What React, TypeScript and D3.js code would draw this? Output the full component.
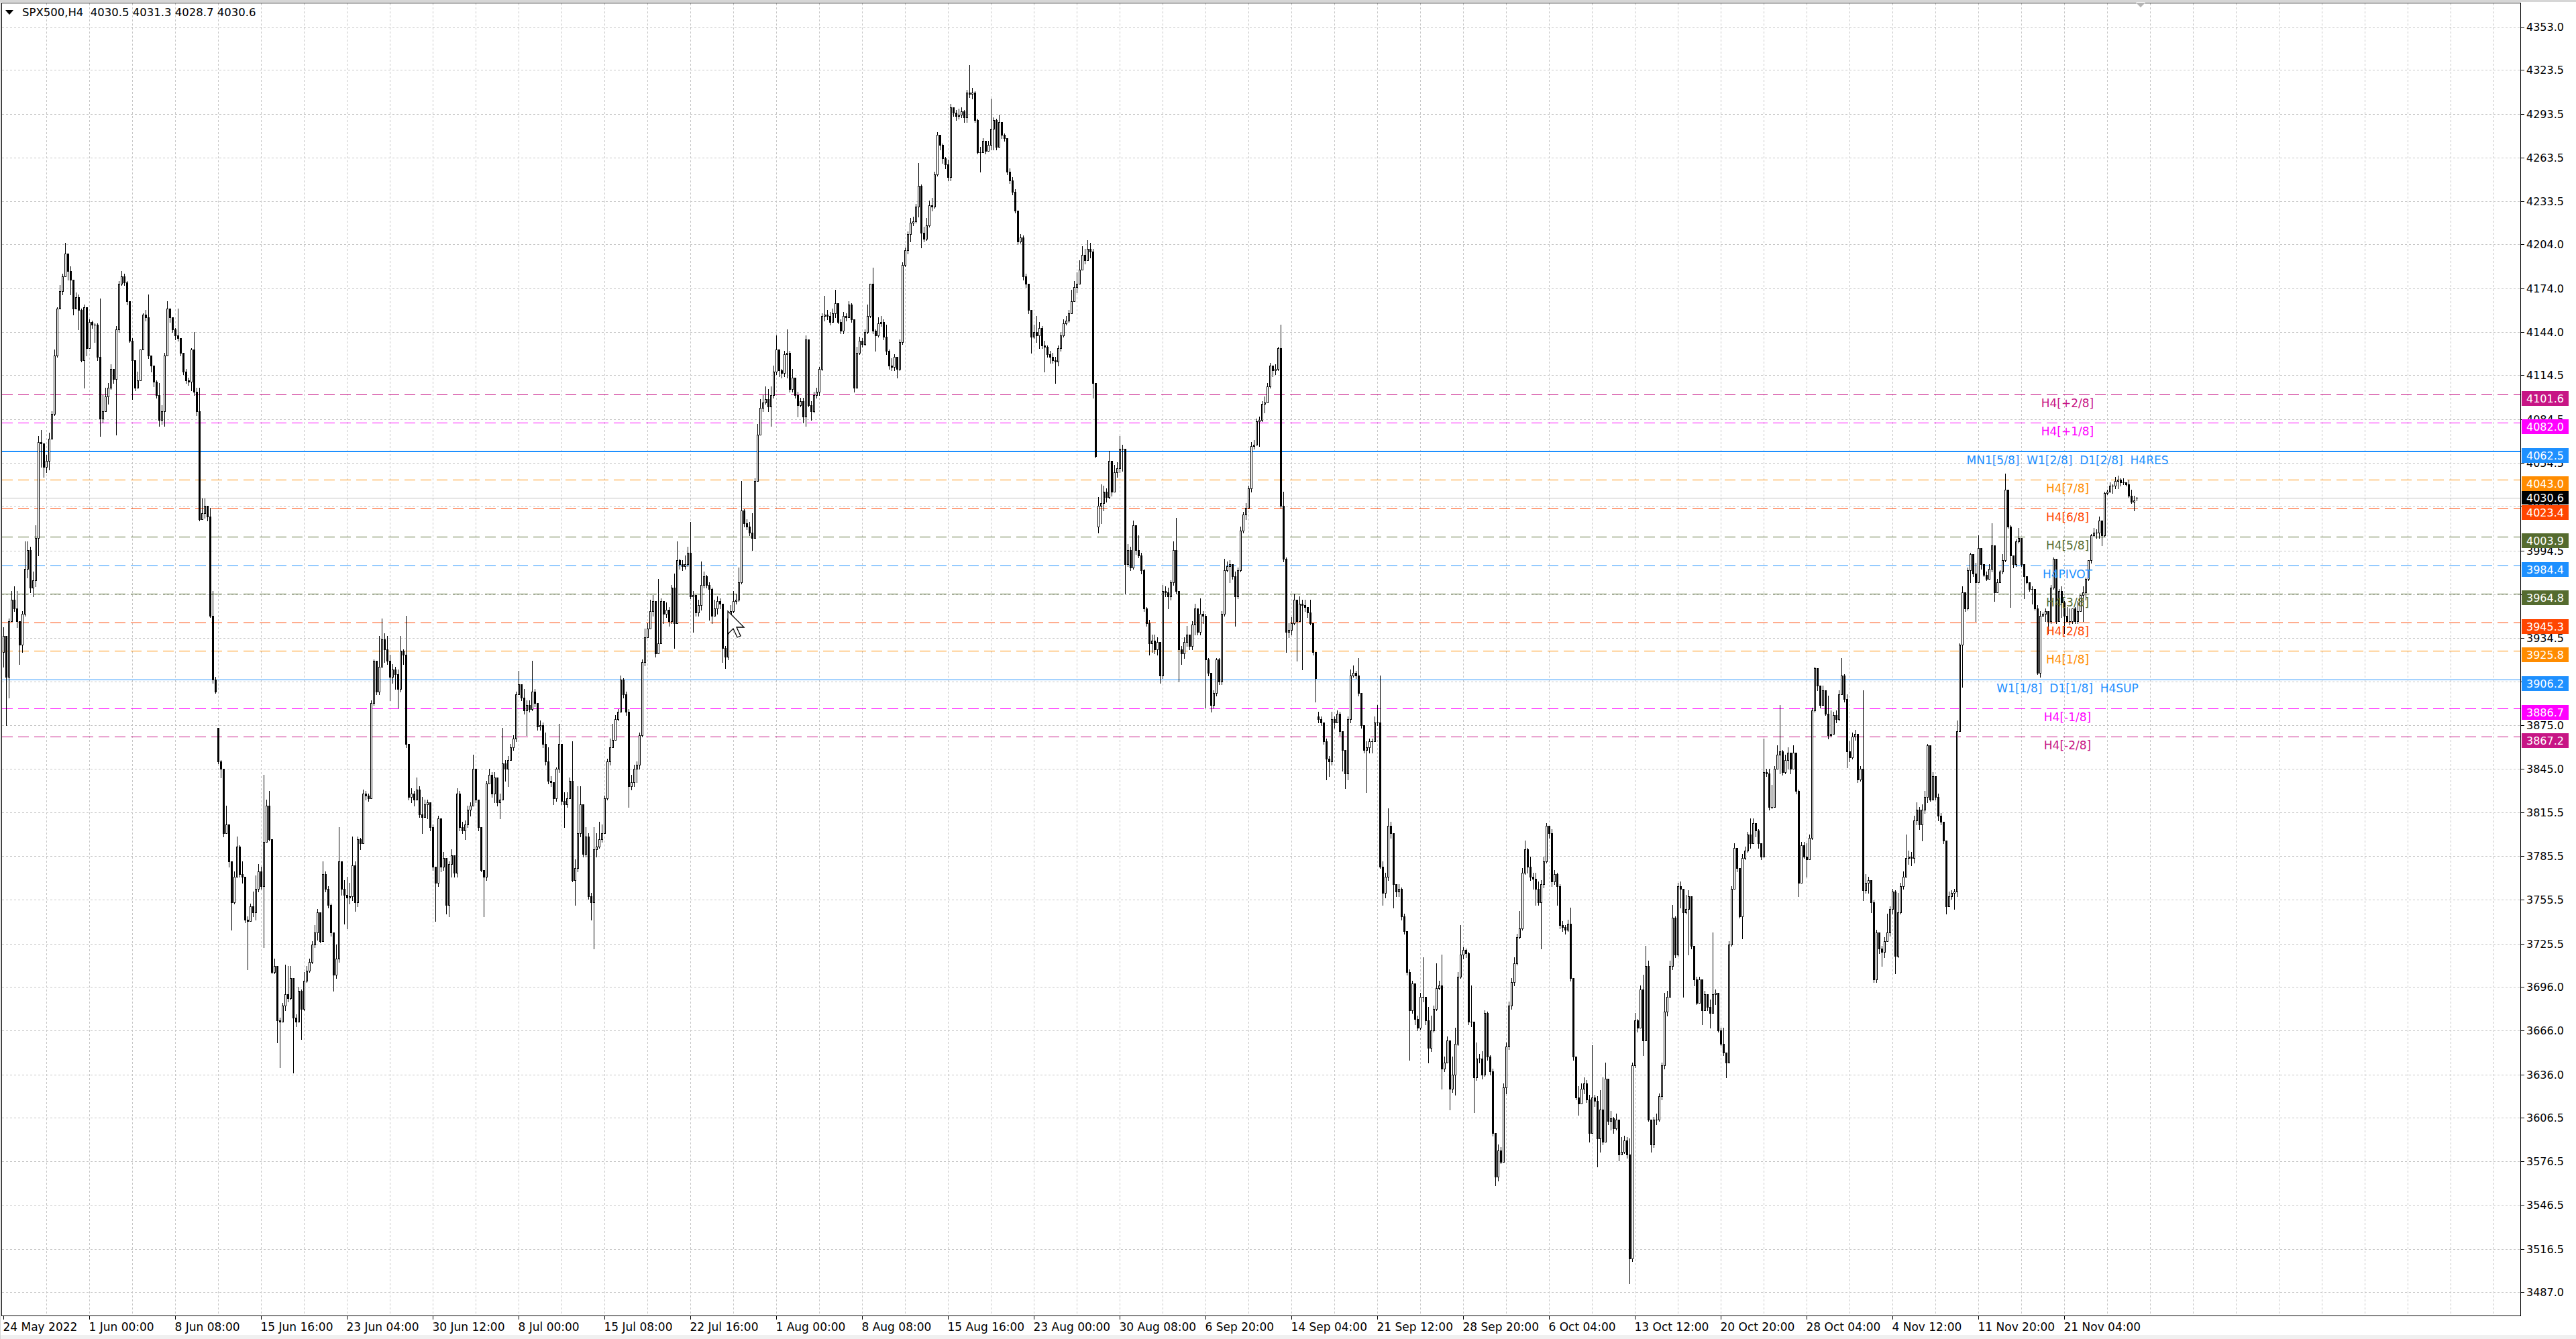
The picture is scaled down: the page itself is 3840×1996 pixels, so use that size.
import React from "react";
import * as d3 from "d3";

type Bar = number[]; // [close, high, low, open?]

const FIRST_OPEN = 3925;

const barsMayJul: Bar[] = [
[3936,3942,3915],[3908,3936,3875],[3946,3948,3894],[3961,3967,3946],[3955,3970,3953],[3946,3967,3942],[3930,3946,3917],[3951,3953,3925],[3982,4001,3950],[3995,4001,3976],
[3969,3997,3966],[3974,3980,3963],[4003,4012,3970],[4069,4073,3991],[4068,4077,4052],[4052,4064,4045],[4056,4060,4048],[4071,4075,4050],[4088,4090,4071],[4128,4132,4087],
[4160,4161,4127],[4172,4176,4163],[4182,4184,4170],[4198,4205,4182],[4186,4198,4180],[4180,4189,4170],[4160,4170,4156],[4168,4171,4163],[4159,4170,4146],[4125,4160,4124],
[4161,4163,4106],[4133,4157,4128],[4151,4153,4138],[4149,4152,4147],[4149,4150,4137],[4127,4150,4125],[4085,4167,4073],[4090,4101,4082],[4100,4106,4094],[4106,4109,4095],
[4119,4122,4105],[4112,4117,4109],[4146,4148,4074],[4177,4179,4144],[4182,4186,4176],[4178,4184,4176],[4165,4179,4163],[4138,4165,4137],[4125,4140,4098],[4106,4125,4104],
[4111,4117,4106],[4132,4132,4115],[4156,4157,4132],[4154,4159,4152],[4128,4170,4126],[4121,4128,4117],[4110,4120,4107],[4101,4111,4099],[4084,4109,4080],[4090,4094,4081],
[4128,4130,4080],[4160,4165,4128],[4154,4159,4151],[4146,4154,4144],[4142,4147,4139],[4140,4160,4138],[4130,4140,4128],[4117,4130,4115],[4111,4119,4109],[4110,4113,4108],
[4132,4133,4104],[4103,4144,4101],[4090,4106,4087],[4016,4106,4015],[4020,4030,4017],[4025,4030,4017],[4018,4024,4015],[3950,4024,3949],[3906,3967,3904],[3898,3908,3897],
[3850,3873,3849,3873],[3845,3851,3839],[3801,3845,3799],[3807,3820,3801],[3782,3807,3778],[3754,3782,3735],[3771,3775,3753],[3792,3799,3771],[3773,3793,3771],[3771,3782,3767],
[3742,3771,3740],[3741,3744,3708],[3751,3753,3744],[3747,3761,3744],[3763,3772,3742],[3775,3780,3761],[3765,3778,3763],[3795,3841,3723],[3820,3824,3810],[3797,3830,3796],
[3706,3797,3705],[3710,3715,3705],[3673,3702,3658],[3672,3675,3641],[3683,3685,3677],[3691,3711,3680],[3688,3710,3686],[3702,3710,3687],[3675,3702,3637],[3672,3677,3669],
[3693,3696,3682],[3681,3694,3660],[3700,3706,3680],[3707,3710,3699],[3713,3715,3706],[3725,3727,3712],[3733,3738,3723],[3747,3749,3728],[3727,3747,3726],[3773,3782,3727],
[3763,3775,3761],[3752,3765,3750],[3733,3753,3731],[3704,3732,3693],[3715,3725,3702],[3782,3805,3713],[3763,3782,3759],[3759,3769,3739],[3757,3771,3736],[3758,3767,3753],
[3779,3799,3755],[3754,3782,3748],[3797,3799,3751],[3794,3798,3790],[3828,3831,3794],[3827,3830,3824],[3825,3828,3823],[3890,3892,3825],[3919,3920,3889],[3898,3906,3896],
[3915,3936,3896],[3934,3948,3915],[3927,3938,3918],[3919,3936,3917],[3908,3923,3892],[3913,3917,3904],[3910,3915,3900],[3900,3913,3887],[3926,3936,3898],[3923,3927,3917],
[3862,3950,3860],[3826,3862,3824],[3828,3832,3822],[3824,3830,3820],[3831,3839,3827],[3814,3833,3812],[3812,3826,3801],[3821,3824,3816],[3822,3824,3811],[3805,3819,3803],
[3778,3807,3776],[3767,3778,3741],[3811,3813,3765],[3778,3811,3775],[3784,3788,3776],[3752,3782,3746],[3780,3782,3744],[3786,3790,3771],[3774,3784,3771],[3828,3832,3771],
[3805,3830,3803],[3803,3809,3801],[3807,3810,3797],[3817,3820,3805],[3820,3822,3813],[3845,3855,3824],[3824,3845,3822],[3805,3824,3803],[3776,3805,3775],[3771,3776,3744],
[3835,3837,3769],[3841,3845,3835],[3828,3843,3826],[3839,3843,3822],[3822,3832,3820],[3824,3828,3811],[3849,3873,3839],[3845,3851,3837],[3851,3854,3833],[3860,3862,3851],
[3866,3868,3858],[3896,3898,3864],[3903,3912,3897],[3894,3902,3892],[3885,3900,3883],[3889,3892,3868],[3886,3892,3884],[3898,3919,3885],[3890,3900,3888]
];

const barsJulAug: Bar[] = [
[3874,3880,3872],[3875,3878,3872],[3862,3877,3860],[3850,3870,3848],[3837,3860,3835],[3836,3840,3833],[3825,3835,3821],[3845,3846,3823],[3862,3876,3843],[3823,3862,3821],
[3821,3829,3805],[3825,3829,3819],[3837,3839,3825],[3769,3864,3768],[3777,3783,3752],[3801,3833,3775],[3821,3833,3799],[3787,3821,3785],[3799,3805,3785],[3758,3801,3756],
[3754,3760,3742],[3790,3805,3722],[3792,3801,3785],[3797,3809,3791],[3801,3807,3795],[3825,3827,3801],[3850,3852,3824],[3860,3866,3848],[3865,3876,3860],[3879,3882,3865],
[3884,3886,3878],[3906,3909,3886],[3896,3907,3894],[3884,3898,3882],[3833,3886,3819],[3836,3841,3831],[3845,3848,3833],[3848,3850,3836],[3868,3870,3845],[3918,3920,3867],
[3935,3941,3916],[3941,3945,3936],[3953,3961,3941],[3960,3964,3950],[3924,3960,3922],[3931,3975,3924],[3960,3962,3935],[3951,3955,3945],[3954,3959,3949],[3946,3956,3943],
[3969,3971,3945],[3945,3979,3928],[3988,4001,3945],[3985,3989,3982],[3984,3988,3981],[3985,3991,3982],[3993,3997,3984],[3963,4014,3962],[3964,3967,3939],[3952,3959,3950],
[3957,3961,3950],[3971,3987,3954],[3977,3980,3969],[3971,3978,3969],[3968,3973,3947],[3950,3969,3945],[3955,3961,3950],[3960,3963,3951],[3958,3962,3955],[3928,3956,3918],
[3922,3929,3914],[3948,3951,3920],[3953,3957,3947],[3960,3967,3952],[3961,3965,3958],[3973,3983,3960],[4022,4042,3972],[4013,4023,4011],[4011,4016,4009],[4007,4014,4005],
[4003,4020,3995],[4042,4044,4003],[4074,4081,4052],[4092,4098,4090],[4096,4101,4090],[4098,4107,4095],[4093,4105,4090],[4101,4107,4080],[4117,4121,4099],[4132,4142,4115],
[4118,4121,4114],[4116,4119,4113],[4129,4131,4114],[4130,4146,4113],[4105,4131,4103],[4113,4119,4103],[4101,4107,4099],[4094,4103,4086],[4097,4099,4093],[4086,4099,4082],
[4139,4142,4080],[4094,4139,4093],[4090,4097,4084],[4101,4103,4089],[4103,4106,4099],[4119,4120,4101],[4155,4157,4118],[4156,4169,4152],[4155,4159,4153],[4151,4158,4149],
[4157,4160,4152],[4164,4173,4154],[4151,4164,4150],[4145,4153,4143],[4155,4158,4143],[4154,4157,4152],[4163,4165,4154],[4153,4164,4151],[4106,4153,4103],[4130,4134,4106],
[4138,4141,4129],[4136,4140,4134],[4144,4146,4135],[4155,4163,4143],[4177,4177,4154],[4145,4188,4143],[4142,4146,4131],[4150,4154,4141],[4151,4155,4148],[4141,4153,4139],
[4131,4149,4129],[4121,4132,4119],[4120,4126,4118],[4127,4129,4118],[4119,4126,4113],[4137,4139,4118],[4190,4192,4136],[4200,4202,4189],[4211,4213,4198],[4219,4222,4206],
[4220,4223,4217],[4230,4232,4219],[4244,4260,4223],[4212,4245,4202],[4208,4216,4206],[4217,4222,4207],[4231,4234,4216],[4230,4236,4227],[4252,4254,4229],[4279,4281,4251],
[4272,4275,4269],[4263,4273,4260],[4259,4264,4256],[4250,4262,4248],[4298,4300,4248],[4294,4297,4292],[4292,4296,4289],[4293,4297,4290],[4295,4298,4291],[4291,4296,4288],
[4308,4310,4288],[4307,4327,4305],[4308,4311,4304],[4289,4309,4288],[4267,4290,4266],[4267,4271,4254],[4275,4277,4269],[4268,4275,4266],[4272,4275,4268],[4283,4304,4269],
[4289,4291,4269],[4271,4290,4269],[4288,4293,4279],[4279,4286,4277],[4277,4280,4275],[4254,4277,4252],[4248,4256,4246],[4240,4250,4238],[4227,4242,4226],[4206,4218,4204],
[4209,4211,4205],[4182,4210,4180],[4177,4184,4175],[4159,4177,4157],[4141,4159,4130],[4144,4149,4140],[4142,4155,4137],[4147,4151,4133],[4135,4148,4133],[4134,4138,4117],
[4129,4135,4127],[4127,4131,4123],[4125,4130,4123],[4124,4127,4109],[4133,4135,4121],[4142,4144,4131],[4150,4153,4141],[4152,4155,4149]
];

const barsAugOct: Bar[] = [
[4157,4159,4151],[4165,4173,4157],[4175,4179,4165],[4177,4185,4171],[4187,4193,4179],[4197,4203,4189],[4193,4201,4191],[4201,4207,4193],[4199,4205,4195],[4109,4201,4099],
[4059,4109,4058],[4025,4031,4007,4011],[4027,4040,4013],[4035,4039,4022],[4031,4037,4028],[4056,4063,4030],[4035,4047,4032],[4048,4053,4035],[4051,4055,4045],[4064,4073,4048],
[4064,4067,4049],[3985,4047,3965],[3995,3999,3984],[3983,3997,3981],[4012,4015,3982],[3995,4011,3992],[3991,4005,3990],[3981,3993,3979],[3955,3982,3953],[3945,3956,3943],
[3931,3947,3923],[3933,3937,3925],[3927,3937,3924],[3932,3935,3923],[3909,3929,3904],[3967,3971,3907],[3966,3970,3963],[3963,3969,3955],[3973,3974,3961],[3995,4001,3971],
[3967,4017,3965],[3927,3967,3905],[3924,3929,3917],[3932,3935,3921],[3937,3943,3929],[3929,3933,3927],[3944,3946,3927],[3955,3958,3937],[3939,3955,3937],[3951,3962,3937],
[3950,3953,3945],[3920,3951,3887],[3911,3921,3909],[3889,3911,3884],[3897,3899,3887],[3920,3921,3895],[3905,3921,3903],[3951,3953,3903],[3981,3989,3950],[3984,3987,3980],
[3985,3988,3973],[3977,3985,3975],[3963,3980,3943],[3981,3983,3962],[4008,4011,3980],[4019,4021,4007],[4024,4027,4016],[4037,4039,4024],[4066,4069,4035],[4067,4070,4064],
[4083,4085,4067],[4084,4086,4066],[4095,4097,4083],[4096,4100,4089],[4107,4109,4096],[4121,4123,4106],[4118,4120,4114],[4119,4122,4115],[4133,4134,4118],[4025,4149,4024],
[3989,4035,3987],[3939,3990,3925],[3940,3945,3935],[3945,3949,3937],[3961,3965,3944],[3946,3960,3919],[3958,3963,3953],[3957,3961,3913],[3956,3961,3953],[3952,3956,3949],
[3945,3961,3944],[3925,3944,3923],[3907,3925,3891],[3879,3884,3877,3881],[3877,3881,3875],[3864,3877,3862],[3852,3866,3838],[3850,3854,3840],[3879,3884,3848],[3877,3881,3873],
[3883,3885,3877],[3871,3884,3868],[3858,3871,3844],[3842,3852,3832],[3879,3881,3838],[3909,3913,3877],[3911,3916,3908],[3909,3912,3907],[3897,3921,3895],[3875,3897,3873],
[3858,3875,3856],[3860,3864,3829],[3864,3866,3856],[3864,3866,3856],[3877,3881,3873],[3877,3889,3875],[3778,3909,3777],[3760,3782,3752],[3771,3774,3757],[3806,3818,3769],
[3801,3809,3798],[3766,3801,3750],[3761,3766,3758],[3763,3766,3758],[3744,3764,3742],[3734,3746,3732],[3706,3734,3704],[3680,3708,3646],[3698,3700,3678],[3674,3698,3670],
[3668,3676,3666],[3689,3692,3667],[3689,3716,3686],[3673,3688,3670],[3654,3682,3644],[3666,3676,3652],[3681,3683,3665],[3695,3712,3680],[3697,3700,3694],[3640,3718,3626],
[3644,3648,3638],[3659,3662,3644],[3626,3654,3612],[3636,3648,3624],[3657,3668,3622],[3703,3706,3656],[3718,3738,3702],[3721,3723,3715],[3719,3722,3716],[3672,3720,3670],
[3672,3697,3669],[3634,3672,3610],[3647,3658,3632],[3647,3650,3644],[3636,3652,3633],[3678,3680,3635],[3648,3679,3646],[3638,3649,3636],[3596,3640,3594],[3566,3596,3560],
[3584,3588,3563],[3576,3586,3575],[3627,3630,3576],[3655,3658,3623],[3683,3686,3653],[3699,3702,3681],[3712,3716,3697],[3730,3732,3711],[3736,3748,3729],[3774,3777,3735],
[3790,3796,3773],[3778,3791,3774],[3771,3785,3769],[3770,3774,3763],[3763,3774,3752],[3754,3768,3752],[3766,3769,3722],[3782,3785,3764],[3806,3808,3781],[3801,3804,3798],
[3768,3804,3765],[3773,3776,3766],[3765,3774,3752],[3738,3766,3736],[3737,3741,3734],[3735,3738,3732],[3739,3742,3734],[3702,3750,3700],[3648,3702,3646],[3620,3648,3619],
[3616,3628,3608],[3626,3630,3622],[3630,3634,3623],[3619,3632,3617],[3596,3622,3590],[3620,3656,3608],[3618,3622,3614]
];

const barsOctNov: Bar[] = [
[3592,3621,3573],[3612,3625,3583],[3590,3634,3588],[3633,3644,3592],[3604,3625,3602],[3606,3611,3598],[3599,3607,3596],[3605,3609,3598],[3581,3600,3577],[3583,3593,3581],
[3591,3594,3582],[3581,3593,3579],[3510,3592,3493],[3642,3644,3508],[3673,3678,3641],[3668,3674,3665],[3694,3697,3668],[3659,3704,3649],[3710,3724,3689],[3605,3714,3604],
[3588,3605,3583],[3605,3607,3586],[3605,3609,3602],[3621,3623,3604],[3642,3644,3619],[3679,3692,3640],[3689,3693,3676],[3710,3714,3701],[3743,3752,3708],[3718,3744,3716],
[3765,3767,3717],[3763,3768,3750],[3747,3754,3689],[3749,3759,3746],[3758,3762,3718],[3724,3751,3722],[3701,3724,3697],[3685,3703,3684],[3701,3703,3685],[3680,3701,3670],
[3691,3693,3680],[3682,3691,3680],[3678,3687,3668],[3691,3733,3679],[3692,3694,3684],[3666,3692,3665],[3657,3668,3656],[3651,3668,3649],[3644,3648,3634],[3725,3727,3644],
[3763,3765,3724],[3791,3794,3773],[3777,3791,3775],[3744,3777,3743],[3784,3787,3729],[3789,3792,3783],[3800,3802,3788],[3794,3811,3791],[3808,3811,3796],[3803,3807,3799],
[3794,3804,3791],[3785,3794,3783],[3843,3866,3791],[3842,3845,3840],[3819,3845,3817],[3819,3834,3818],[3845,3847,3829],[3855,3861,3845],[3857,3889,3842],[3843,3858,3841],
[3851,3855,3842],[3856,3860,3845],[3845,3850,3842],[3856,3861,3845],[3830,3850,3828],[3767,3831,3758],[3793,3795,3791],[3785,3795,3784],[3783,3794,3771],[3798,3800,3787],
[3885,3887,3797],[3914,3915,3884],[3902,3904,3899],[3889,3901,3887],[3899,3902,3890],[3883,3899,3882],[3868,3895,3866],[3869,3885,3867],[3882,3884,3878],[3879,3885,3877],
[3896,3899,3878],[3909,3921,3896],[3893,3910,3891],[3857,3896,3846],[3853,3864,3850],[3867,3870,3852],[3869,3872,3865],[3838,3864,3836],[3845,3847,3837],[3762,3899,3755],
[3767,3773,3760],[3769,3771,3760],[3754,3769,3747],[3701,3755,3699],[3733,3735,3699],[3722,3733,3719],[3720,3724,3710],[3727,3730,3716],[3733,3746,3730],[3749,3751,3731],
[3761,3763,3746],[3717,3762,3705],[3747,3760,3716],[3765,3767,3746],[3771,3775,3763],[3784,3800,3771],[3785,3789,3780],[3784,3788,3779],[3810,3813,3781],[3817,3822,3807],
[3807,3819,3804],[3817,3821,3796],[3826,3830,3815],[3861,3862,3822],[3824,3859,3823],[3840,3843,3830],[3826,3838,3824],[3813,3828,3810],[3809,3815,3807],[3796,3809,3794],
[3751,3794,3746],[3758,3761,3751],[3760,3762,3756],[3761,3763,3749]
];

const barsNov: Bar[] = [
[3871,3878,3758],[3930,3931,3873],[3966,3970,3901],[3955,3966,3953],[3981,3983,3954],[3992,3993,3973],[3979,3981,3977],[3973,3986,3946],[3996,4005,3973],[3985,3988,3982],
[3978,3983,3977],[3975,3980,3974],[3982,3985,3975],[3998,4013,3980],[3966,3998,3960],[3973,3975,3972],[3980,3981,3973],[3988,3992,3979],[4036,4047,3987],[4011,4036,4010],
[3991,4012,3956],[3985,3986,3983],[4001,4002,3984],[4003,4010,4000],[3985,4003,3984],[3977,3985,3962],[3973,3977,3972],[3968,3971,3967],[3968,3970,3958],[3955,3968,3954],
[3911,3957,3910],[3950,3953,3908],[3951,3952,3950],[3953,3955,3946],[3946,3953,3938],[3969,3971,3945],[3989,3990,3968],[3946,3989,3945],[3967,3968,3946],[3959,3970,3949],
[3950,3960,3938],[3946,3956,3946],[3946,3955,3944],[3955,3955,3945],[3946,3956,3945],[3953,3960,3945],[3964,3964,3953],[3966,3970,3946],[3975,3976,3961],[3988,3988,3974],
[4005,4006,3986],[4007,4010,4004],[4007,4009,4003],[4015,4018,4003],[4005,4015,3998],[4034,4035,4004],[4035,4036,4033],[4039,4041,4035],[4039,4040,4034],[4042,4045,4037],
[4043,4046,4037],[4041,4044,4039],[4041,4044,4040],[4040,4041,4039],[4032,4043,4031],[4028,4036,4027],[4029,4032,4022],[4030.6,4031.3,4028.7,4030.5]
];

const timeLabels = ["24 May 2022","1 Jun 00:00","8 Jun 08:00","15 Jun 16:00","23 Jun 04:00","30 Jun 12:00","8 Jul 00:00","15 Jul 08:00","22 Jul 16:00","1 Aug 00:00","8 Aug 08:00","15 Aug 16:00","23 Aug 00:00","30 Aug 08:00","6 Sep 20:00","14 Sep 04:00","21 Sep 12:00","28 Sep 20:00","6 Oct 04:00","13 Oct 12:00","20 Oct 20:00","28 Oct 04:00","4 Nov 12:00","11 Nov 20:00","21 Nov 04:00"];

const priceTicks = ["4353.0","4323.5","4293.5","4263.5","4233.5","4204.0","4174.0","4144.0","4114.5","4084.5","4054.5","4024.5","3994.5","3964.5","3934.5","3905.0","3875.0","3845.0","3815.5","3785.5","3755.5","3725.5","3696.0","3666.0","3636.0","3606.5","3576.5","3546.5","3516.5","3487.0"];

const levelPrices = [4101.6, 4082.0, 4062.5, 4043.0, 4023.4, 4003.9, 3984.4, 3964.8, 3945.3, 3925.8, 3906.2, 3886.7, 3867.2];
const levelNames = ["H4[+2/8]","H4[+1/8]","MN1[5/8]  W1[2/8]  D1[2/8]  H4RES","H4[7/8]","H4[6/8]","H4[5/8]","H4PIVOT","H4[3/8]","H4[2/8]","H4[1/8]","W1[1/8]  D1[1/8]  H4SUP","H4[-1/8]","H4[-2/8]"];
const levelColors = ["#C71585","#FF00FF","#1E90FF","#FF8C00","#FF4500","#556B2F","#1E90FF","#556B2F","#FF4500","#FF8C00","#1E90FF","#FF00FF","#C71585"];
const levelStyles = ["dash","dash","solid2","dash","dash","dash","dash","dash","dash","dash","solid","dash","dash"];

const bidPrice = 4030.6;
const titleText = "SPX500,H4  4030.5 4031.3 4028.7 4030.6";

export default function App() {
  const W = 3840, H = 1996;
  const L = 2.5, T = 4.5, R = 3757.5, B = 1961.5;
  const font = "'DejaVu Sans', Verdana, sans-serif";

  const rows = [...barsMayJul, ...barsJulAug, ...barsAugOct, ...barsOctNov, ...barsNov];
  let prev = FIRST_OPEN;
  const candles = rows.map((r, i) => {
    const o = r.length > 3 ? r[3] : prev;
    const c = r[0];
    prev = c;
    return { i, o, c, h: Math.max(r[1], o, c), l: Math.min(r[2], o, c) };
  });

  const x = d3.scaleLinear().domain([0, 32]).range([5, 133]);
  const y = d3.scaleLinear().domain([3487, 4353]).range([1926, 40]);

  const vGrid = d3.range(16, 16 * 60, 16).filter((b) => x(b) < R - 3);
  const labelBars = timeLabels.map((_, k) => k * 32);

  return (
    <svg width={W} height={H} viewBox={`0 0 ${W} ${H}`} style={{ position: "absolute", left: 0, top: 0 }} xmlns="http://www.w3.org/2000/svg">
      <rect x={0} y={0} width={W} height={H} fill="#ffffff" />
      <rect x={0} y={0} width={W} height={3} fill="#d6d6d6" />
      <rect x={0} y={1990} width={W} height={6} fill="#f0f0f0" />
      <rect x={0} y={0} width={1} height={H} fill="#d6d6d6" />

      {/* grid */}
      <g stroke="#c6c6c6" strokeWidth={1} strokeDasharray="3,3" shapeRendering="crispEdges">
        {priceTicks.map((t) => {
          const yy = Math.round(y(+t)) + 0.5;
          return <line key={"h" + t} x1={L} x2={R} y1={yy} y2={yy} />;
        })}
        {vGrid.map((b) => {
          const xx = Math.round(x(b)) + 0.5;
          return <line key={"v" + b} x1={xx} x2={xx} y1={T} y2={B} />;
        })}
      </g>

      {/* bid line */}
      <line x1={L} x2={R} y1={Math.round(y(bidPrice)) + 0.5} y2={Math.round(y(bidPrice)) + 0.5} stroke="#c0c0c0" strokeWidth={1} shapeRendering="crispEdges" />

      {/* level lines */}
      <g shapeRendering="crispEdges">
        {levelPrices.map((p, k) => {
          const st = levelStyles[k];
          const yy = st === "solid2" ? Math.round(y(p)) : Math.round(y(p)) + 0.5;
          return (
            <line key={"lv" + k} x1={L} x2={R} y1={yy} y2={yy} stroke={levelColors[k]}
              strokeWidth={st === "solid2" ? 2 : 1}
              strokeDasharray={st === "dash" ? "16,8" : undefined} />
          );
        })}
      </g>

      {/* candles */}
      <g shapeRendering="crispEdges">
        {candles.map((d) => {
          const cx = Math.round(x(d.i));
          const yo = Math.round(y(d.o));
          const yc = Math.round(y(d.c));
          const yh = Math.round(y(d.h));
          const yl = Math.round(y(d.l));
          const bull = d.c >= d.o;
          return (
            <g key={"c" + d.i}>
              <line x1={cx + 0.5} x2={cx + 0.5} y1={yh} y2={yl + 1} stroke="#000" strokeWidth={1} />
              {yo === yc ? (
                <line x1={cx - 1} x2={cx + 2} y1={yc + 0.5} y2={yc + 0.5} stroke="#000" strokeWidth={1} />
              ) : bull ? (
                <rect x={cx - 0.5} y={yc + 0.5} width={2} height={yo - yc} fill="#fff" stroke="#000" strokeWidth={1} />
              ) : (
                <rect x={cx - 1} y={yo} width={3} height={yc - yo + 1} fill="#000" />
              )}
            </g>
          );
        })}
      </g>

      {/* mouse cursor */}
      <path d="M1085,911 L1085,945 L1093,937 L1099,950 L1104,948 L1098,935 L1109,935 Z" fill="#fff" stroke="#000" strokeWidth={1.3} strokeLinejoin="miter" />

      {/* level labels */}
      <g fontFamily={font} fontSize={17} textAnchor="middle" style={{ whiteSpace: "pre" }}>
        {levelPrices.map((p, k) => (
          <text key={"lt" + k} x={3082} y={Math.round(y(p)) + 19} fill={levelColors[k]} xmlSpace="preserve">{levelNames[k]}</text>
        ))}
      </g>

      {/* frame */}
      <rect x={L} y={T} width={R - L} height={B - T} fill="none" stroke="#000" strokeWidth={1} shapeRendering="crispEdges" />
      <path d="M3184,4 L3198,4 L3191,11 Z" fill="#b4b4b4" />

      {/* right axis */}
      <g fontFamily={font} fontSize={16} fill="#000">
        {priceTicks.map((t) => {
          const yy = Math.round(y(+t));
          return (
            <g key={"pt" + t}>
              <line x1={R} x2={R + 5} y1={yy + 0.5} y2={yy + 0.5} stroke="#000" shapeRendering="crispEdges" />
              <text x={3766} y={yy} dominantBaseline="central">{t}</text>
            </g>
          );
        })}
      </g>

      {/* bid box */}
      <g fontFamily={font} fontSize={16}>
        <rect x={3759} y={Math.round(y(bidPrice)) - 10} width={70} height={20} fill="#000" />
        <text x={3766} y={Math.round(y(bidPrice))} dominantBaseline="central" fill="#fff">{bidPrice.toFixed(1)}</text>
      </g>

      {/* level boxes */}
      <g fontFamily={font} fontSize={16}>
        {levelPrices.map((p, k) => {
          const yy = Math.round(y(p));
          return (
            <g key={"lb" + k}>
              <rect x={3759} y={yy - 5} width={70} height={22} fill={levelColors[k]} />
              <text x={3766} y={yy + 6} dominantBaseline="central" fill="#fff">{p.toFixed(1)}</text>
            </g>
          );
        })}
      </g>

      {/* bottom axis */}
      <g fontFamily={font} fontSize={17} fill="#000">
        {labelBars.map((b, k) => {
          const xx = Math.round(x(b)) + 0.5;
          return (
            <g key={"tl" + k}>
              <line x1={xx} x2={xx} y1={B} y2={B + 5} stroke="#000" shapeRendering="crispEdges" />
              <text x={xx - 1} y={1984}>{timeLabels[k]}</text>
            </g>
          );
        })}
      </g>

      {/* title */}
      <path d="M8,15 L20,15 L14,22 Z" fill="#000" />
      <text x={33} y={24} fontFamily={font} fontSize={16.5} fill="#000" style={{ whiteSpace: "pre" }} xmlSpace="preserve">{titleText}</text>
    </svg>
  );
}
